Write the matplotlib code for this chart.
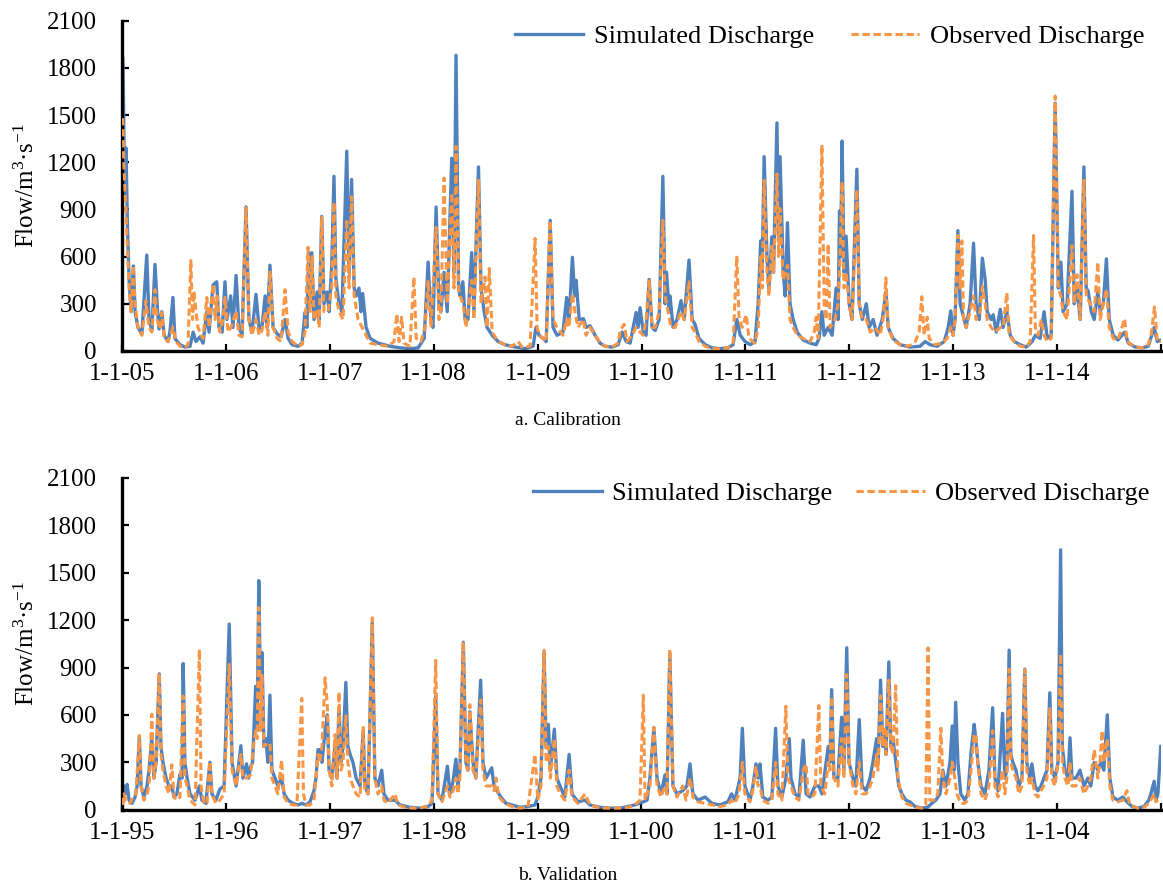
import numpy as np
import matplotlib
matplotlib.use("Agg")
import matplotlib.pyplot as plt
from matplotlib.ticker import MultipleLocator

plt.rcParams['font.family'] = 'Liberation Serif'
plt.rcParams['mathtext.fontset'] = 'custom'
plt.rcParams['mathtext.rm'] = 'Liberation Serif'
plt.rcParams['mathtext.it'] = 'Liberation Serif:italic'

# (day since start of period, discharge m3/s) at peaks and troughs of the hydrographs
cal_sim = [
    (3, 1860), (6, 1500), (9, 1000), (14, 1290), (19, 800), (25, 450), (32, 250), (40, 540), (46, 250),
    (56, 150), (70, 110), (87, 610), (95, 200), (105, 130), (116, 550), (125, 250), (130, 140), (140, 250),
    (148, 100), (162, 60), (169, 130), (179, 340), (186, 80), (204, 40), (221, 25), (239, 30), (250, 120),
    (260, 60), (274, 90), (285, 50), (298, 250), (306, 120), (320, 420), (333, 440), (341, 150), (352, 120),
    (362, 440), (369, 200), (382, 350), (390, 150), (401, 480), (411, 150), (422, 100), (436, 916), (446, 200),
    (457, 120), (471, 360), (482, 140), (492, 150), (503, 350), (510, 150), (520, 545), (531, 150), (545, 110),
    (559, 90), (573, 200), (584, 80), (598, 40), (619, 30), (633, 50), (643, 245), (650, 150), (656, 620),
    (661, 300), (667, 625), (675, 200), (686, 375), (693, 200), (702, 855), (710, 300), (721, 375), (728, 250),
    (737, 535), (745, 1110), (752, 450), (763, 300), (773, 250), (790, 1270), (798, 500), (807, 1090),
    (816, 400), (823, 350), (833, 400), (840, 250), (846, 365), (858, 150), (872, 80), (900, 50), (942, 30),
    (977, 20), (1012, 15), (1041, 20), (1062, 80), (1076, 565), (1086, 200), (1093, 150), (1104, 915),
    (1114, 300), (1121, 250), (1132, 500), (1143, 250), (1159, 1225), (1167, 500), (1174, 1880), (1183, 400),
    (1188, 350), (1198, 440), (1206, 200), (1216, 200), (1229, 625), (1237, 250), (1253, 1170), (1262, 400),
    (1273, 250), (1283, 150), (1301, 100), (1322, 60), (1346, 40), (1382, 25), (1417, 15), (1445, 30),
    (1455, 150), (1466, 100), (1480, 80), (1491, 60), (1505, 830), (1515, 150), (1529, 100), (1550, 120),
    (1563, 340), (1571, 180), (1583, 595), (1591, 350), (1596, 450), (1607, 200), (1622, 205), (1631, 150),
    (1645, 160), (1663, 100), (1680, 50), (1698, 30), (1723, 25), (1744, 40), (1758, 120), (1772, 60),
    (1786, 50), (1807, 245), (1814, 150), (1821, 275), (1832, 120), (1842, 100), (1853, 455), (1863, 150),
    (1874, 130), (1888, 200), (1901, 1110), (1909, 300), (1914, 500), (1923, 250), (1926, 350), (1937, 150),
    (1951, 200), (1965, 320), (1976, 200), (1993, 578), (2004, 200), (2014, 170), (2028, 80), (2050, 40),
    (2074, 20), (2102, 15), (2130, 20), (2148, 40), (2161, 200), (2173, 100), (2190, 60), (2208, 40),
    (2225, 60), (2236, 300), (2245, 700), (2250, 500), (2257, 1235), (2267, 600), (2274, 400), (2284, 725),
    (2290, 500), (2302, 1450), (2308, 700), (2313, 1235), (2324, 500), (2331, 350), (2339, 815), (2348, 300),
    (2359, 200), (2373, 120), (2394, 70), (2419, 50), (2440, 40), (2450, 80), (2460, 250), (2468, 100),
    (2482, 150), (2496, 100), (2510, 400), (2517, 200), (2522, 890), (2526, 600), (2531, 1335), (2538, 500),
    (2545, 730), (2556, 300), (2566, 200), (2583, 1155), (2591, 300), (2602, 200), (2616, 300), (2626, 150),
    (2640, 200), (2654, 100), (2672, 200), (2685, 375), (2693, 150), (2710, 80), (2735, 40), (2770, 25),
    (2805, 30), (2823, 60), (2840, 40), (2865, 30), (2890, 60), (2904, 150), (2913, 255), (2921, 100),
    (2928, 200), (2938, 765), (2946, 300), (2953, 250), (2967, 150), (2981, 300), (2993, 685), (3002, 300),
    (3013, 200), (3024, 590), (3034, 450), (3041, 250), (3055, 200), (3062, 230), (3073, 120), (3087, 265),
    (3097, 150), (3110, 250), (3122, 100), (3136, 60), (3157, 40), (3178, 25), (3199, 60), (3210, 100),
    (3227, 80), (3241, 250), (3252, 80), (3266, 100), (3280, 1575), (3291, 400), (3300, 565), (3308, 250),
    (3322, 300), (3339, 1015), (3347, 300), (3357, 400), (3368, 200), (3381, 1170), (3389, 400), (3396, 380),
    (3407, 250), (3417, 200), (3430, 380), (3438, 250), (3449, 300), (3460, 585), (3470, 200), (3484, 100),
    (3501, 70), (3524, 120), (3537, 50), (3561, 25), (3586, 20), (3607, 30), (3628, 150), (3639, 60),
    (3652, 70),
]

cal_obs = [
    (3, 1480), (6, 1200), (11, 1000), (18, 700), (25, 400), (32, 250), (40, 545), (46, 300), (56, 150),
    (70, 100), (84, 320), (95, 150), (105, 120), (116, 390), (123, 200), (134, 140), (140, 245), (148, 80),
    (162, 60), (179, 150), (190, 60), (204, 30), (221, 20), (232, 40), (242, 575), (248, 200), (253, 380),
    (260, 250), (267, 150), (278, 100), (285, 80), (298, 340), (306, 150), (320, 425), (327, 200), (334, 350),
    (344, 120), (355, 200), (362, 340), (373, 120), (383, 150), (401, 255), (411, 100), (422, 90), (436, 910),
    (446, 200), (457, 100), (471, 200), (482, 100), (492, 130), (503, 250), (513, 100), (520, 510), (531, 150),
    (545, 80), (559, 60), (573, 390), (584, 120), (598, 60), (619, 30), (633, 40), (643, 120), (654, 660),
    (661, 250), (668, 600), (675, 200), (686, 250), (693, 150), (702, 850), (710, 250), (724, 250), (737, 400),
    (745, 945), (752, 350), (763, 250), (777, 200), (790, 840), (798, 400), (807, 980), (816, 350), (830, 200),
    (844, 150), (858, 100), (872, 50), (900, 40), (935, 30), (956, 60), (966, 235), (974, 60), (983, 215),
    (991, 50), (1012, 30), (1026, 470), (1034, 80), (1051, 60), (1065, 150), (1076, 450), (1086, 150),
    (1104, 785), (1114, 200), (1121, 250), (1132, 1100), (1143, 300), (1159, 1005), (1167, 400), (1174, 1300),
    (1183, 400), (1188, 350), (1199, 300), (1209, 150), (1229, 450), (1237, 200), (1253, 1085), (1262, 300),
    (1276, 470), (1283, 150), (1291, 525), (1301, 120), (1322, 60), (1346, 40), (1371, 30), (1392, 60),
    (1406, 25), (1434, 30), (1452, 715), (1459, 150), (1466, 100), (1480, 80), (1491, 60), (1505, 830),
    (1515, 200), (1529, 150), (1550, 100), (1563, 200), (1571, 150), (1583, 365), (1592, 250), (1603, 150),
    (1621, 200), (1631, 100), (1645, 150), (1663, 100), (1680, 50), (1698, 30), (1723, 25), (1744, 50),
    (1751, 130), (1765, 170), (1775, 60), (1793, 100), (1807, 150), (1821, 120), (1832, 100), (1842, 200),
    (1853, 455), (1863, 150), (1874, 150), (1888, 250), (1901, 830), (1909, 350), (1919, 250), (1930, 150),
    (1944, 150), (1965, 250), (1976, 200), (1993, 440), (2004, 150), (2014, 120), (2028, 60), (2050, 30),
    (2074, 15), (2102, 15), (2130, 20), (2148, 50), (2161, 605), (2169, 200), (2180, 150), (2194, 230),
    (2204, 80), (2225, 50), (2236, 150), (2245, 600), (2250, 400), (2257, 1085), (2267, 500), (2274, 350),
    (2284, 665), (2290, 500), (2302, 1125), (2308, 600), (2313, 905), (2324, 450), (2339, 545), (2348, 200),
    (2359, 150), (2373, 100), (2394, 80), (2419, 60), (2433, 120), (2440, 215), (2447, 80), (2460, 1310),
    (2468, 300), (2475, 200), (2482, 680), (2489, 150), (2506, 200), (2517, 300), (2524, 600), (2531, 1075),
    (2538, 400), (2545, 500), (2556, 300), (2566, 200), (2583, 1025), (2591, 300), (2602, 200), (2616, 200),
    (2630, 120), (2647, 150), (2665, 100), (2675, 200), (2685, 465), (2693, 150), (2710, 70), (2735, 40),
    (2753, 30), (2770, 35), (2788, 60), (2802, 120), (2811, 345), (2819, 100), (2830, 215), (2837, 80),
    (2858, 40), (2883, 50), (2900, 80), (2913, 150), (2921, 100), (2928, 200), (2938, 735), (2946, 400),
    (2952, 700), (2958, 200), (2967, 150), (2981, 250), (2993, 350), (3002, 200), (3016, 250), (3024, 410),
    (3034, 300), (3041, 200), (3055, 150), (3069, 120), (3087, 150), (3097, 150), (3110, 370), (3118, 100),
    (3136, 60), (3157, 30), (3178, 25), (3192, 60), (3204, 735), (3210, 150), (3220, 100), (3231, 200),
    (3241, 100), (3252, 60), (3266, 80), (3280, 1620), (3291, 400), (3300, 350), (3308, 250), (3322, 200),
    (3339, 670), (3347, 300), (3357, 485), (3368, 200), (3381, 1085), (3389, 350), (3403, 300), (3417, 250),
    (3430, 565), (3438, 200), (3449, 300), (3460, 395), (3470, 150), (3484, 80), (3501, 70), (3524, 205),
    (3533, 60), (3561, 25), (3586, 20), (3607, 40), (3617, 100), (3629, 280), (3639, 60), (3652, 60),
]

val_sim = [
    (2, 60), (7, 150), (14, 100), (18, 160), (25, 60), (35, 40), (46, 80), (53, 150), (61, 465), (67, 150),
    (77, 80), (88, 150), (95, 250), (105, 450), (112, 200), (120, 300), (131, 860), (137, 400), (144, 300),
    (155, 200), (165, 150), (175, 150), (183, 80), (193, 100), (204, 225), (211, 200), (215, 925), (221, 300),
    (229, 200), (239, 100), (257, 60), (272, 150), (281, 60), (295, 40), (309, 300), (316, 100), (330, 60),
    (344, 130), (359, 150), (377, 1175), (387, 300), (401, 150), (418, 405), (425, 200), (438, 290), (445, 200),
    (452, 270), (459, 300), (470, 780), (475, 500), (481, 1450), (487, 700), (492, 995), (499, 400), (506, 450),
    (513, 300), (520, 725), (527, 250), (538, 200), (548, 150), (561, 200), (570, 100), (584, 60), (601, 40),
    (619, 30), (633, 40), (647, 30), (661, 50), (675, 120), (682, 200), (689, 380), (696, 380), (703, 300),
    (714, 500), (722, 600), (728, 250), (738, 200), (749, 400), (756, 200), (763, 650), (770, 300), (777, 400),
    (787, 805), (794, 400), (802, 350), (812, 300), (823, 200), (837, 150), (848, 500), (854, 150), (865, 100),
    (880, 1190), (889, 200), (900, 150), (913, 250), (921, 100), (935, 60), (960, 60), (977, 30), (1012, 15),
    (1048, 10), (1076, 20), (1090, 40), (1103, 720), (1111, 100), (1125, 60), (1144, 275), (1153, 100),
    (1164, 180), (1174, 320), (1181, 150), (1188, 250), (1200, 1060), (1209, 300), (1216, 250), (1223, 620),
    (1234, 300), (1244, 200), (1261, 820), (1269, 300), (1280, 200), (1300, 265), (1308, 150), (1318, 120),
    (1332, 80), (1350, 40), (1371, 30), (1399, 15), (1427, 20), (1452, 30), (1462, 80), (1473, 200),
    (1484, 1000), (1491, 400), (1499, 540), (1506, 250), (1520, 510), (1529, 200), (1540, 150), (1557, 80),
    (1572, 350), (1582, 100), (1603, 50), (1628, 60), (1645, 30), (1680, 15), (1716, 10), (1751, 10),
    (1779, 20), (1803, 30), (1833, 50), (1846, 60), (1856, 200), (1870, 520), (1881, 200), (1895, 100),
    (1909, 220), (1916, 100), (1926, 990), (1937, 150), (1951, 100), (1971, 120), (1986, 150), (1997, 290),
    (2007, 100), (2025, 60), (2050, 80), (2074, 40), (2102, 30), (2130, 50), (2143, 100), (2155, 60),
    (2173, 200), (2181, 515), (2190, 150), (2208, 60), (2218, 150), (2229, 290), (2236, 200), (2243, 290),
    (2253, 80), (2271, 60), (2285, 80), (2298, 515), (2306, 150), (2320, 80), (2334, 200), (2346, 450),
    (2352, 200), (2366, 100), (2380, 80), (2395, 440), (2405, 100), (2419, 80), (2436, 150), (2450, 150),
    (2461, 100), (2483, 400), (2489, 300), (2495, 760), (2503, 200), (2517, 200), (2530, 585), (2538, 250),
    (2548, 1025), (2556, 300), (2570, 200), (2580, 150), (2592, 570), (2602, 150), (2616, 120), (2630, 200),
    (2640, 300), (2653, 450), (2658, 300), (2667, 820), (2675, 400), (2681, 500), (2686, 350), (2696, 935),
    (2703, 400), (2710, 450), (2721, 300), (2731, 150), (2742, 100), (2756, 60), (2770, 50), (2788, 20),
    (2812, 10), (2833, 15), (2847, 40), (2861, 60), (2876, 100), (2886, 250), (2897, 150), (2911, 300),
    (2919, 530), (2925, 250), (2931, 680), (2939, 300), (2949, 100), (2963, 60), (2974, 100), (2985, 360),
    (2996, 540), (3002, 450), (3009, 300), (3020, 150), (3034, 100), (3048, 250), (3061, 645), (3069, 200),
    (3080, 120), (3096, 610), (3104, 200), (3111, 250), (3119, 1010), (3125, 350), (3132, 300), (3143, 250),
    (3153, 150), (3164, 200), (3174, 890), (3181, 300), (3192, 200), (3199, 290), (3210, 150), (3220, 120),
    (3231, 150), (3241, 200), (3252, 250), (3262, 740), (3269, 250), (3280, 200), (3291, 300), (3300, 1645),
    (3306, 400), (3315, 250), (3326, 200), (3333, 455), (3340, 200), (3354, 200), (3368, 250), (3382, 150),
    (3396, 200), (3406, 150), (3418, 300), (3431, 250), (3442, 300), (3452, 250), (3464, 600), (3473, 200),
    (3484, 80), (3501, 60), (3519, 80), (3533, 50), (3551, 20), (3572, 10), (3593, 20), (3610, 60),
    (3617, 100), (3629, 180), (3635, 60), (3642, 100), (3652, 400),
]

val_obs = [
    (2, 30), (7, 100), (14, 60), (21, 60), (28, 40), (39, 80), (49, 100), (61, 470), (67, 150), (77, 60),
    (88, 100), (95, 150), (105, 605), (112, 200), (120, 300), (131, 865), (137, 350), (144, 250), (155, 150),
    (165, 100), (175, 285), (183, 80), (193, 60), (204, 80), (215, 720), (221, 200), (229, 150), (239, 60),
    (257, 30), (272, 1015), (278, 150), (288, 40), (299, 40), (309, 305), (316, 100), (330, 40), (344, 60),
    (359, 100), (377, 920), (387, 250), (401, 150), (418, 350), (425, 200), (438, 200), (452, 220), (462, 400),
    (470, 500), (475, 450), (481, 1280), (487, 500), (492, 860), (499, 400), (510, 420), (520, 420), (527, 200),
    (538, 150), (548, 100), (561, 315), (570, 80), (584, 40), (601, 30), (615, 30), (632, 705), (638, 100),
    (647, 30), (661, 30), (675, 60), (689, 350), (696, 300), (703, 400), (714, 835), (722, 655), (728, 250),
    (738, 150), (749, 475), (756, 200), (763, 745), (770, 250), (777, 300), (787, 595), (794, 300), (802, 200),
    (812, 150), (823, 100), (837, 80), (848, 520), (854, 120), (865, 100), (880, 1215), (889, 200), (900, 100),
    (913, 150), (921, 60), (935, 40), (960, 100), (970, 30), (995, 15), (1019, 10), (1048, 10), (1076, 25),
    (1090, 60), (1103, 945), (1111, 100), (1125, 50), (1144, 150), (1153, 80), (1164, 120), (1174, 200),
    (1181, 100), (1188, 200), (1200, 1065), (1209, 300), (1216, 250), (1223, 665), (1234, 250), (1244, 200),
    (1261, 695), (1269, 250), (1280, 150), (1300, 150), (1308, 120), (1315, 200), (1325, 80), (1346, 40),
    (1371, 20), (1399, 10), (1427, 15), (1452, 350), (1462, 60), (1473, 150), (1484, 1010), (1491, 300),
    (1499, 400), (1506, 200), (1520, 450), (1529, 150), (1540, 100), (1557, 60), (1572, 250), (1582, 80),
    (1603, 40), (1628, 100), (1645, 30), (1680, 10), (1716, 10), (1751, 10), (1779, 15), (1803, 30),
    (1821, 60), (1833, 725), (1839, 60), (1856, 150), (1870, 520), (1881, 150), (1895, 80), (1909, 150),
    (1916, 100), (1926, 1015), (1937, 150), (1951, 80), (1971, 150), (1983, 60), (1997, 200), (2007, 80),
    (2025, 50), (2050, 40), (2074, 30), (2102, 20), (2130, 30), (2143, 60), (2155, 40), (2169, 100),
    (2181, 300), (2190, 100), (2208, 50), (2218, 120), (2229, 275), (2236, 150), (2243, 150), (2253, 60),
    (2271, 40), (2285, 60), (2298, 300), (2306, 100), (2320, 60), (2334, 655), (2341, 200), (2352, 150),
    (2366, 80), (2380, 60), (2395, 250), (2405, 290), (2412, 100), (2426, 80), (2436, 100), (2450, 660),
    (2457, 150), (2471, 100), (2483, 300), (2489, 250), (2495, 715), (2503, 200), (2517, 150), (2530, 450),
    (2538, 200), (2548, 855), (2556, 300), (2570, 150), (2580, 100), (2592, 300), (2602, 100), (2616, 100),
    (2630, 150), (2640, 200), (2653, 350), (2658, 250), (2667, 720), (2675, 400), (2679, 530), (2686, 350),
    (2696, 820), (2703, 400), (2710, 350), (2720, 785), (2728, 200), (2742, 80), (2756, 40), (2770, 30),
    (2788, 15), (2812, 10), (2826, 30), (2834, 1025), (2840, 60), (2854, 60), (2868, 100), (2879, 515),
    (2886, 200), (2897, 100), (2911, 200), (2919, 300), (2928, 200), (2935, 100), (2949, 40), (2963, 40),
    (2974, 60), (2985, 250), (2996, 480), (3002, 465), (3009, 300), (3020, 100), (3034, 60), (3048, 150),
    (3061, 500), (3069, 150), (3080, 80), (3096, 250), (3104, 100), (3111, 200), (3119, 890), (3125, 300),
    (3132, 250), (3143, 200), (3153, 100), (3164, 150), (3174, 886), (3181, 250), (3192, 150), (3199, 200),
    (3210, 100), (3220, 80), (3231, 120), (3241, 150), (3252, 200), (3262, 640), (3269, 200), (3280, 150),
    (3291, 300), (3300, 985), (3306, 300), (3315, 200), (3326, 150), (3333, 300), (3340, 150), (3354, 150),
    (3368, 200), (3382, 100), (3396, 150), (3406, 200), (3418, 380), (3431, 200), (3438, 300), (3446, 500),
    (3452, 300), (3464, 450), (3473, 150), (3484, 60), (3501, 50), (3519, 60), (3533, 120), (3543, 30),
    (3572, 10), (3593, 15), (3610, 40), (3617, 60), (3629, 100), (3635, 50), (3642, 60), (3652, 80),
]

# first year of each panel, caption under it
start_years = [2005, 1995]
captions = ["a. Calibration", "b. Validation"]

SIM_COLOR = '#4F81BD'
OBS_COLOR = '#F79646'


def series(year0, pairs):
    days = np.array([p[0] for p in pairs], dtype=int)
    q = np.array([p[1] for p in pairs], dtype=float)
    return np.datetime64(f"{year0}-01-01") + days.astype('timedelta64[D]'), q


fig = plt.figure(figsize=(11.63, 8.85), dpi=100)
rects = [[0.1049, 0.6034, 0.8934, 0.3733], [0.1049, 0.0851, 0.8934, 0.3748]]
caption_y = [1 - 420 / 885, 1 - 876 / 885]
legend_x = [1.007, 1.012]
legend_gap = [1.4, 0.9]

for i, (year0, caption, sim, obs) in enumerate(zip(start_years, captions,
                                                    [cal_sim, val_sim], [cal_obs, val_obs])):
    ax = fig.add_axes(rects[i])
    t_s, q_s = series(year0, sim)
    t_o, q_o = series(year0, obs)
    ax.plot(t_s, q_s, color=SIM_COLOR, lw=2.4, label='Simulated Discharge', zorder=2)
    ax.plot(t_o, q_o, color=OBS_COLOR, lw=2.2, ls='--', dashes=(2.4, 1.2),
            label='Observed Discharge', zorder=3)

    years = list(range(year0, year0 + 11))
    ticks = [np.datetime64(f"{y}-01-01") for y in years]
    ax.set_xlim(ticks[0], ticks[-1])
    ax.set_xticks(ticks)
    ax.set_xticklabels([f"1-1-{y % 100:02d}" for y in years[:-1]] + [""])
    ax.set_ylim(0, 2100)
    ax.yaxis.set_major_locator(MultipleLocator(300))

    for s in ('top', 'right'):
        ax.spines[s].set_visible(False)
    for s in ('left', 'bottom'):
        ax.spines[s].set_linewidth(2.4)
    ax.tick_params(direction='in', length=5, width=1.6, labelsize=18)
    ax.tick_params(axis='y', pad=18)
    ax.tick_params(axis='x', pad=9)
    ax.set_ylabel('Flow/m$^{3}$·s$^{-1}$', fontsize=18, labelpad=6)

    ax.legend(loc='upper right', bbox_to_anchor=(legend_x[i], 1.06), ncol=2, frameon=False,
              fontsize=19, handlelength=2.6, handletextpad=0.4, columnspacing=legend_gap[i])
    fig.text(0.488, caption_y[i], caption, ha='center', va='center', fontsize=14)

fig.savefig('out.png', dpi=100)
